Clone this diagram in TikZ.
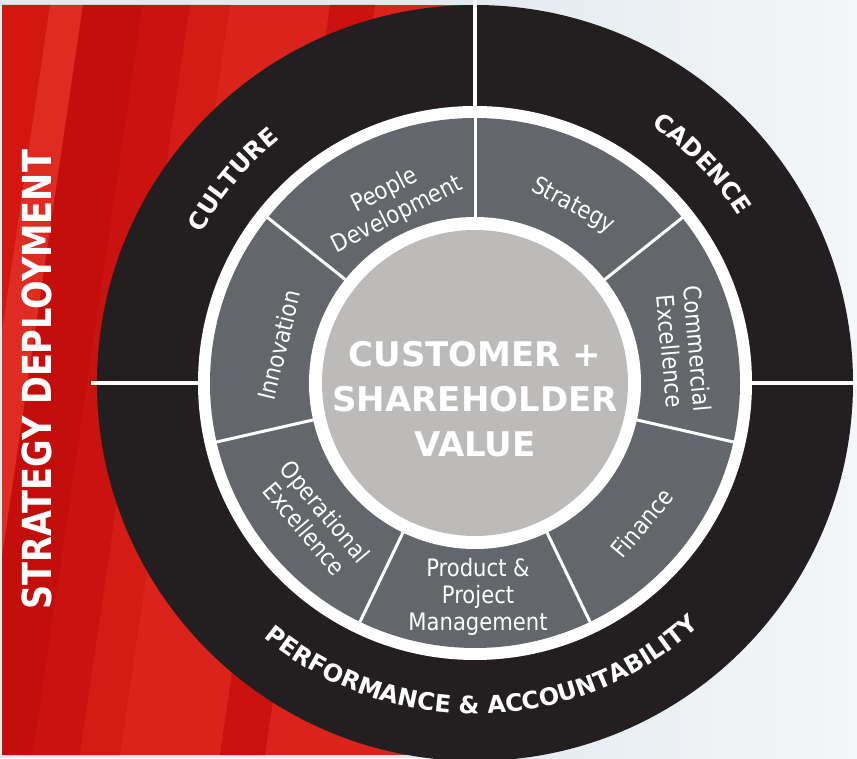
\documentclass[tikz,border=0pt]{standalone}
\usepackage{fontspec}
\setmainfont{DejaVu Sans}
\newfontfamily\labfont[FakeStretch=0.88]{DejaVu Sans}
\newfontfamily\hbfont{DejaVu Sans}
\newfontfamily\sdfont[FakeStretch=0.84]{DejaVu Sans}
\usetikzlibrary{decorations.text}
\definecolor{ringblack}{HTML}{231F20}
\definecolor{seggray}{HTML}{63666A}
\definecolor{centergray}{HTML}{BCBBB9}
\definecolor{redbase}{HTML}{DA231B}
\definecolor{redA}{HTML}{D1170F}
\definecolor{redL}{HTML}{DE2C22}
\definecolor{redD}{HTML}{C40E0B}
\definecolor{redM}{HTML}{CA120E}
\definecolor{redN}{HTML}{D41C14}
\definecolor{bgA}{HTML}{E3EAEF}
\definecolor{bgB}{HTML}{F4F6F8}
\newcommand\redband[3]{\fill[#3] (#1,3) -- (#2,3) -- ({#2+110},753) -- ({#1+110},753) -- cycle;}
\newcommand\outerfont{\hbfont\bfseries\fontsize{24}{24}\selectfont\color{white}}
\tikzset{
  seglabel/.style={text=white, font=\labfont\fontsize{24}{27}\selectfont, align=center, inner sep=0pt},
  divline/.style={white, line width=3pt},
  quadline/.style={white, line width=4pt},
  outertext/.style={decorate, decoration={text along path, text align=center, text={#1}}}
}
\begin{document}
\begin{tikzpicture}[x=1pt,y=1pt]
\useasboundingbox (0,0) rectangle (857,758);
\coordinate (C) at (475,375);
% background
\fill[bgA] (0,0) rectangle (857,758);
\shade[left color=bgA, right color=bgB] (475,0) rectangle (857,758);
% red panel with stripes
\begin{scope}
  \clip (2,3) rectangle (475,753);
  \fill[redbase] (2,3) rectangle (475,753);
  \redband{-108}{-60}{redA}
  \redband{-60}{-27}{redL}
  \redband{-27}{33}{redD}
  \redband{33}{80}{redM}
  \redband{80}{120}{redN}
  \redband{220}{265}{redM}
\end{scope}
% outer black ring
\fill[ringblack] (C) circle[radius=378];
\draw[quadline] ([shift={(90:272)}]C) -- ([shift={(90:384)}]C);
\draw[quadline] ([shift={(180:272)}]C) -- ([shift={(180:384)}]C);
\draw[quadline] ([shift={(0:272)}]C) -- ([shift={(0:384)}]C);
% rings
\fill[white] (C) circle[radius=277];
\fill[seggray] (C) circle[radius=265];
\fill[white] (C) circle[radius=166];
\fill[centergray] (C) circle[radius=153];
\foreach \a in {0,...,6}
  \draw[divline] ([shift={({90-\a*360/7}:160)}]C) -- ([shift={({90-\a*360/7}:270)}]C);
% segment labels
\node[seglabel, rotate=27] (people) at (391,555) {People\\Development};
\node[seglabel, rotate=-28] (strategy) at (573,552) {Strategy};
\node[seglabel, rotate=-85] (commercial) at (684,408) {Commercial\\Excellence};
\node[seglabel, rotate=50] (finance) at (642,235) {Finance};
\node[seglabel] (product) at (478,161) {Product \&\\Project\\Management};
\node[seglabel, rotate=-50] (operational) at (315,238) {Operational\\Excellence};
\node[seglabel, rotate=76] (innovation) at (279,413) {Innovation};
% centre
\node[text=white, font=\hbfont\bfseries\fontsize{34}{45}\selectfont, align=center, inner sep=0pt] (value) at (475,358.5) {CUSTOMER +\\SHAREHOLDER\\VALUE};
% outer ring labels
\path[outertext={|\outerfont|CULTURE}] ([shift={(160:312)}]C) arc[start angle=160, end angle=120, radius=312];
\path[outertext={|\outerfont|CADENCE}] ([shift={(64:312)}]C) arc[start angle=64, end angle=24, radius=312];
\path[outertext={|\outerfont|PERFORMANCE {\&} ACCOUNTABILITY}] ([shift={(225:331)}]C) arc[start angle=225, end angle=318, radius=331];
% left title
\node[rotate=90, text=white, font=\sdfont\bfseries\fontsize{40}{40}\selectfont, inner sep=0pt] (sd) at (37,378) {STRATEGY DEPLOYMENT};
\end{tikzpicture}
\end{document}
